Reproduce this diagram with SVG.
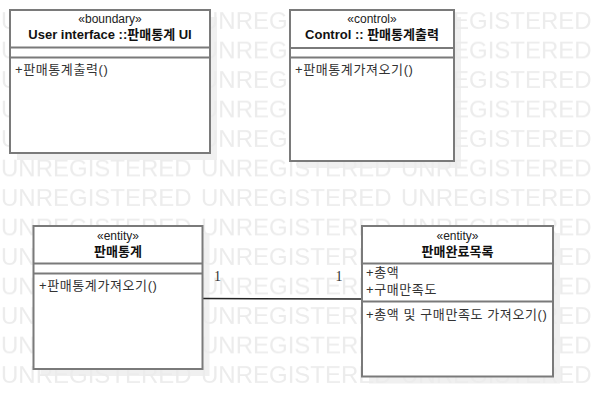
<svg xmlns="http://www.w3.org/2000/svg" width="594" height="417" viewBox="0 0 594 417">
<style>
.wm{font-family:"Liberation Sans",Arial,sans-serif;font-size:24px;fill:#ececec}
.shadow{fill:#f0f0f0}
.box{fill:#fff;stroke:#7a7a7a;stroke-width:2}
.sep{stroke:#7a7a7a;stroke-width:2}
.st{font-family:"Liberation Sans","Noto Sans CJK KR",sans-serif;font-size:12px;fill:#222;text-anchor:middle}
.title{font-family:"Liberation Sans","Noto Sans CJK KR",sans-serif;font-size:13px;font-weight:bold;fill:#111;text-anchor:middle}
.op{font-family:"Liberation Sans","Noto Sans CJK KR",sans-serif;font-size:13px;fill:#333;letter-spacing:0.6px}
.mult{font-family:"Liberation Serif","Noto Sans CJK KR",serif;font-size:14px;fill:#333}
.conn{stroke:#222;stroke-width:1.5;fill:none}
</style>
<defs>
<pattern id="wmPattern" patternUnits="userSpaceOnUse" x="1" y="4.3" width="200" height="29.5">
<text class="wm" x="0" y="25">UNREGISTERED</text>
</pattern>
</defs>
<rect width="594" height="417" fill="#fff"/>
<g id="shadows">
<rect class="shadow" x="17" y="17" width="200" height="143"/>
<rect class="shadow" x="297" y="17" width="164" height="151"/>
<rect class="shadow" x="40.5" y="233" width="169" height="143"/>
<rect class="shadow" x="369" y="233" width="191" height="150.5"/>
</g>
<rect id="watermark" x="0" y="0" width="594" height="390" fill="url(#wmPattern)"/>
<g id="connectors">
<line class="conn" x1="203" y1="298.5" x2="362" y2="299"/>
<text class="mult" x="214" y="281">1</text>
<text class="mult" x="335.5" y="281">1</text>
</g>
<g id="boundary-ui">
<rect class="box" x="10" y="10" width="200" height="143"/>
<line class="sep" x1="10" y1="47.5" x2="210" y2="47.5"/>
<line class="sep" x1="10" y1="57.5" x2="210" y2="57.5"/>
<text class="st" x="110" y="22.5">«boundary»</text>
<text class="title" x="110" y="38.5">User interface ::판매통계 UI</text>
<text class="op" x="15" y="73.5">+판매통계출력()</text>
</g>
<g id="control">
<rect class="box" x="290" y="10" width="164" height="151"/>
<line class="sep" x1="290" y1="48" x2="454" y2="48"/>
<line class="sep" x1="290" y1="57.5" x2="454" y2="57.5"/>
<text class="st" x="372" y="22.5">«control»</text>
<text class="title" x="372" y="38.5">Control :: 판매통계출력</text>
<text class="op" x="295" y="73.5">+판매통계가져오기()</text>
</g>
<g id="entity-stats">
<rect class="box" x="33.5" y="226" width="169" height="143"/>
<line class="sep" x1="33.5" y1="263.5" x2="202.5" y2="263.5"/>
<line class="sep" x1="33.5" y1="273.5" x2="202.5" y2="273.5"/>
<text class="st" x="118" y="239.5">«entity»</text>
<text class="title" x="118" y="256">판매통계</text>
<text class="op" x="39" y="289.5">+판매통계가져오기()</text>
</g>
<g id="entity-sales">
<rect class="box" x="362" y="226" width="191" height="150.5"/>
<line class="sep" x1="362" y1="263.5" x2="553" y2="263.5"/>
<line class="sep" x1="362" y1="301.5" x2="553" y2="301.5"/>
<text class="st" x="457.5" y="239.5">«entity»</text>
<text class="title" x="457.5" y="256">판매완료목록</text>
<text class="op" x="366" y="277">+총액</text>
<text class="op" x="366" y="293.5">+구매만족도</text>
<text class="op" x="366" y="319">+총액 및 구매만족도 가져오기()</text>
</g>
</svg>
